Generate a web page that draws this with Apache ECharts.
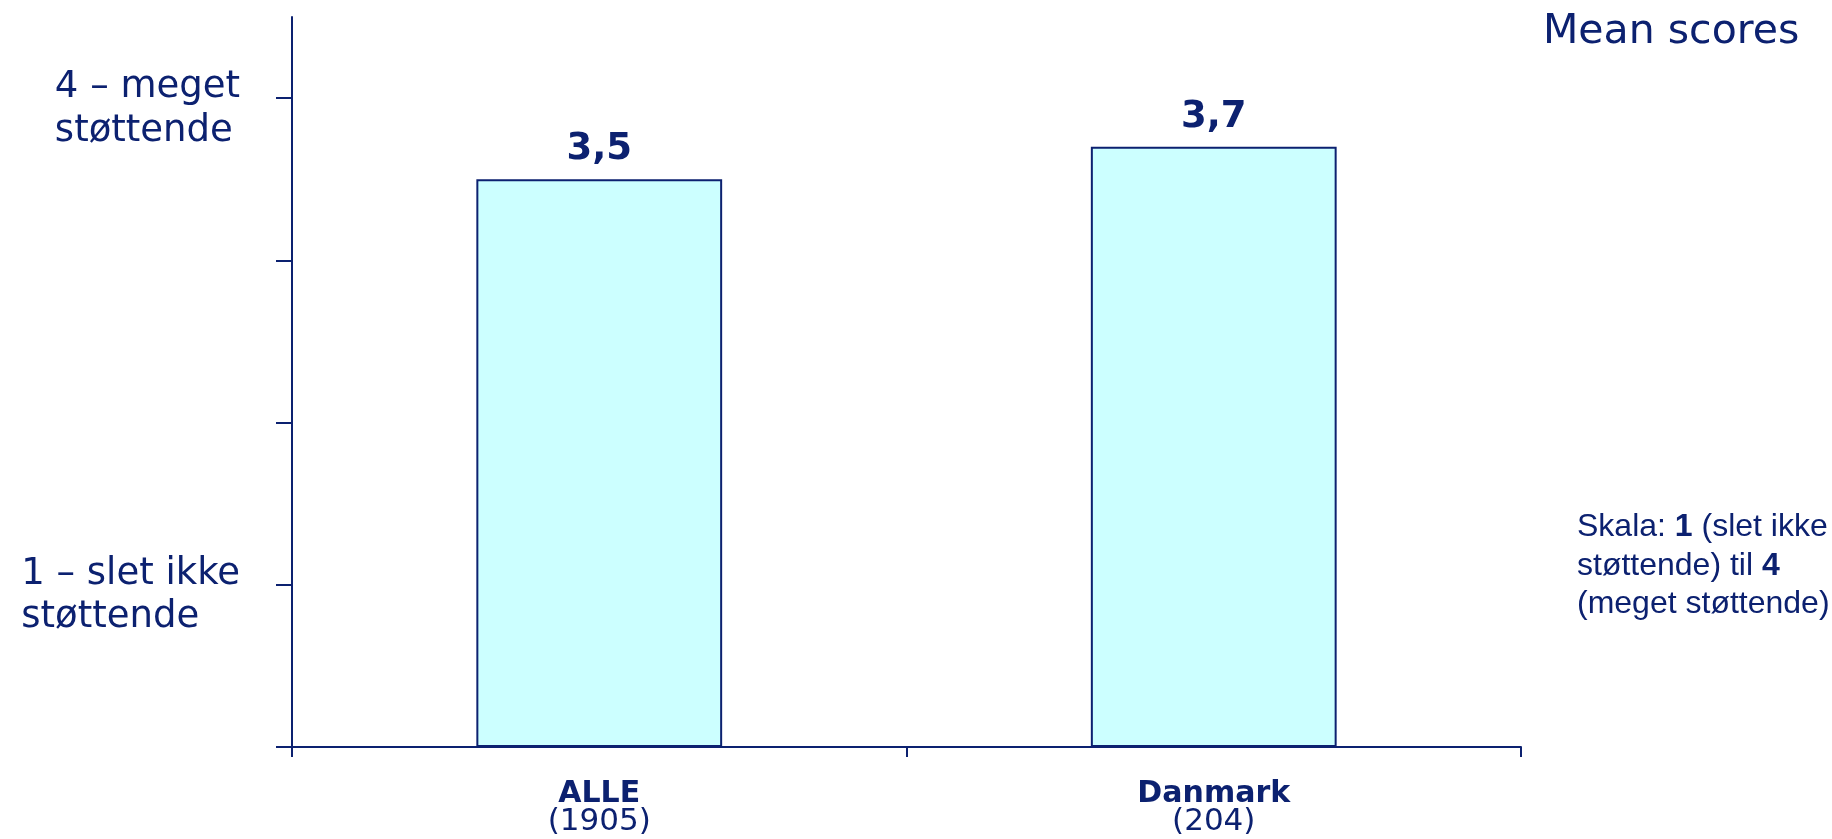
<!DOCTYPE html>
<html>
<head>
<meta charset="utf-8">
<script src="https://cdn.jsdelivr.net/npm/echarts@6/dist/echarts.min.js"></script>
<style>
html,body{margin:0;padding:0;background:#fff;}
#chart{width:1832px;height:839px;}
</style>
</head>
<body>
<div id="chart"></div>
<script>
const categories = ['ALLE', 'Danmark'];
const sampleSizes = ['(1905)', '(204)'];
const meanScores = [3.5, 3.7];
const yTickValues = [0, 1, 2, 3, 4];
const yLabelValues = [1, 4];
const yLabelTexts = [['1 – slet ikke', 'støttende'], ['4 – meget', 'støttende']];
const chartTitle = 'Mean scores';
const scaleNote = [
  [['n', 'Skala: '], ['b', '1'], ['n', ' (slet ikke']],
  [['n', 'støttende) til '], ['b', '4']],
  [['n', '(meget støttende)']]
];

const NAVY = '#0c2170';
const chart = echarts.init(document.getElementById('chart'));

const noteText = scaleNote.map(line => line.map(t => '{' + t[0] + '|' + t[1] + '}').join('')).join('\n');

chart.setOption({
  animation: false,
  backgroundColor: '#ffffff',
  title: [
    {
      text: chartTitle,
      left: 1538,
      top: 7,
      textStyle: { fontFamily: 'DejaVu Sans', fontSize: 41, fontWeight: 'normal', color: NAVY }
    },
    {
      text: noteText,
      left: 1577,
      top: 508,
      padding: 0,
      textStyle: {
        fontWeight: 'normal',
        fontFamily: 'Liberation Sans',
        fontSize: 32,
        color: NAVY,
        rich: {
          n: { fontFamily: 'Liberation Sans', fontSize: 32, fontWeight: 'normal', color: NAVY, lineHeight: 38.5 },
          b: { fontFamily: 'Liberation Sans', fontSize: 32, fontWeight: 'bold', color: NAVY, lineHeight: 38.5 }
        }
      }
    }
  ],
  grid: { left: 292, right: 311, top: 17, bottom: 92, containLabel: false },
  xAxis: {
    type: 'category',
    data: categories,
    boundaryGap: true,
    axisLine: { lineStyle: { color: NAVY, width: 2 } },
    axisTick: { show: true, length: 10, lineStyle: { color: NAVY, width: 2 } },
    axisLabel: {
      margin: 33,
      formatter: function (value, idx) {
        return '{b|' + value + '}\n{n|' + sampleSizes[idx] + '}';
      },
      rich: {
        b: { fontFamily: 'DejaVu Sans', fontSize: 30, fontWeight: 'bold', color: NAVY, lineHeight: 28, align: 'center' },
        n: { fontFamily: 'DejaVu Sans', fontSize: 31, color: NAVY, lineHeight: 28, align: 'center' }
      }
    }
  },
  yAxis: {
    type: 'value',
    min: 0,
    max: 4.5,
    interval: 1,
    splitLine: { show: false },
    axisLine: { show: true, lineStyle: { color: NAVY, width: 2 } },
    axisTick: { show: true, length: 16, customValues: yTickValues, lineStyle: { color: NAVY, width: 2 } },
    axisLabel: {
      customValues: yLabelValues,
      margin: 52,
      align: 'right',
      verticalAlign: 'middle',
      padding: [22, 0, 0, 0],
      formatter: function (value) {
        const i = yLabelValues.indexOf(value);
        if (i < 0) return '';
        return yLabelTexts[i].map(s => '{a|' + s + '}').join('\n');
      },
      rich: {
        a: { fontFamily: 'DejaVu Sans', fontSize: 37, color: NAVY, lineHeight: 43.7, align: 'left' }
      }
    }
  },
  series: [{
    type: 'bar',
    data: meanScores,
    barWidth: '40%',
    itemStyle: { color: '#ccffff', borderColor: NAVY, borderWidth: 2 },
    label: {
      show: true,
      position: 'top',
      distance: 11,
      fontFamily: 'DejaVu Sans',
      fontSize: 37,
      fontWeight: 'bold',
      color: NAVY,
      formatter: function (p) { return p.value.toFixed(1).replace('.', ','); }
    }
  }]
});
</script>
</body>
</html>
